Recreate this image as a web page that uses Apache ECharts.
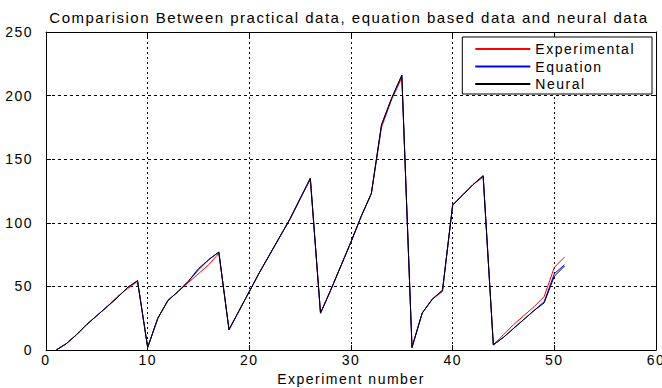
<!DOCTYPE html>
<html>
<head>
<meta charset="utf-8">
<script src="https://cdn.jsdelivr.net/npm/echarts@6/dist/echarts.min.js"></script>
<style>
  html, body { margin: 0; padding: 0; background: #fff; }
  #chart { width: 662px; height: 388px; }
  /* old matlab figure text is spaced out wider than plain Arial */
  #chart svg text { letter-spacing: 1.5px; }
</style>
</head>
<body>
<div id="chart"></div>
<script>
const experimentNo = [1, 2, 3, 4, 5, 6, 7, 8, 9, 10, 11, 12, 13, 14, 15, 16, 17, 18, 19, 20,
  21, 22, 23, 24, 25, 26, 27, 28, 29, 30, 31, 32, 33, 34, 35, 36, 37, 38, 39, 40,
  41, 42, 43, 44, 45, 46, 47, 48, 49, 50, 51]

const experimental = [0, 5, 12, 20, 27, 34, 42, 48, 54, 2, 25, 39, 46, 53, 60, 67, 76, 16, 31, 46,
  61, 75, 89, 103, 119, 134, 29, 47, 66, 85, 105, 123, 175, 197, 214, 2, 29, 40, 46, 114,
  122, 130, 136, 4, 12, 20, 27, 34, 42, 65, 73]

const equation = [0, 5, 12, 20, 27, 34, 41, 49, 54.5, 2, 25, 39, 46, 54, 63, 71, 77, 16, 31, 46,
  61, 75, 89, 103, 119, 135, 29, 47, 66, 85, 105, 123, 177, 198, 216, 2, 29, 40, 47, 114,
  122, 130, 137, 4, 10, 17, 24, 31, 38, 60, 67]

const neural = [0, 5, 12, 20, 27, 34, 41, 49, 54.5, 2, 25, 39, 46, 54, 64, 71, 77, 16, 31, 46,
  61, 75, 89, 103, 119, 135, 29, 47, 66, 85, 105, 123, 177, 198, 216, 2, 29, 40, 47, 114,
  122, 130, 137, 4, 10, 17, 24, 31, 37, 58, 66]

const FONT = '"Liberation Sans", Arial, sans-serif'

function pairs(ys) {
  return experimentNo.map((x, i) => [x, ys[i]])
}

function lineSeries(name, ys, color) {
  return {
    name,
    type: 'line',
    data: pairs(ys),
    symbol: 'none',
    showSymbol: false,
    animation: false,
    lineStyle: { color, width: 1 },
    itemStyle: { color }
  }
}

const chart = echarts.init(document.getElementById('chart'), null, { renderer: 'svg' })

const baseX = {
  type: 'value', min: 0, max: 60, interval: 10,
  axisLine: { onZero: false, lineStyle: { color: '#000', width: 1 } },
  axisTick: { inside: true, length: 5, lineStyle: { color: '#000' } }
}
const baseY = {
  type: 'value', min: 0, max: 250, interval: 50,
  axisLine: { onZero: false, lineStyle: { color: '#000', width: 1 } },
  axisTick: { inside: true, length: 5, lineStyle: { color: '#000' } }
}

chart.setOption({
  backgroundColor: '#fff',
  textStyle: { fontFamily: FONT },
  title: {
    text: 'Comparision Between practical data, equation based data and neural data',
    left: 344, top: 5, textAlign: 'center',
    textStyle: { fontFamily: FONT, fontSize: 15, fontWeight: 'normal', color: '#000' }
  },
  grid: { left: 46, right: 6, top: 32, bottom: 38, outerBoundsMode: 'none' },
  legend: {
    data: ['Experimental', 'Equation', 'Neural'],
    orient: 'vertical',
    right: 10, top: 37,
    padding: [5, 35, 3, 12],
    itemWidth: 55, itemHeight: 1, itemGap: 3.5,
    backgroundColor: '#fff',
    borderColor: '#000', borderWidth: 1, borderRadius: 0,
    textStyle: { fontFamily: FONT, fontSize: 14, color: '#000' }
  },
  xAxis: [
    Object.assign({}, baseX, {
      position: 'bottom',
      name: 'Experiment number', nameLocation: 'middle', nameGap: 21,
      nameTextStyle: { fontFamily: FONT, fontSize: 14, color: '#000' },
      axisLabel: { fontFamily: FONT, fontSize: 14, color: '#000', margin: 3 },
      splitLine: { show: true, lineStyle: { color: '#000', type: [2, 3], width: 1 } }
    }),
    Object.assign({}, baseX, {
      position: 'top',
      axisLabel: { show: false },
      splitLine: { show: false }
    })
  ],
  yAxis: [
    Object.assign({}, baseY, {
      position: 'left',
      axisLabel: { fontFamily: FONT, fontSize: 14, color: '#000', margin: 13 },
      splitLine: { show: true, lineStyle: { color: '#000', type: [3, 3], width: 1 } }
    }),
    Object.assign({}, baseY, {
      position: 'right',
      axisLabel: { show: false },
      splitLine: { show: false }
    })
  ],
  series: [
    lineSeries('Experimental', experimental, '#ff0000'),
    lineSeries('Equation', equation, '#0000ff'),
    lineSeries('Neural', neural, '#000000')
  ]
})
</script>
</body>
</html>
